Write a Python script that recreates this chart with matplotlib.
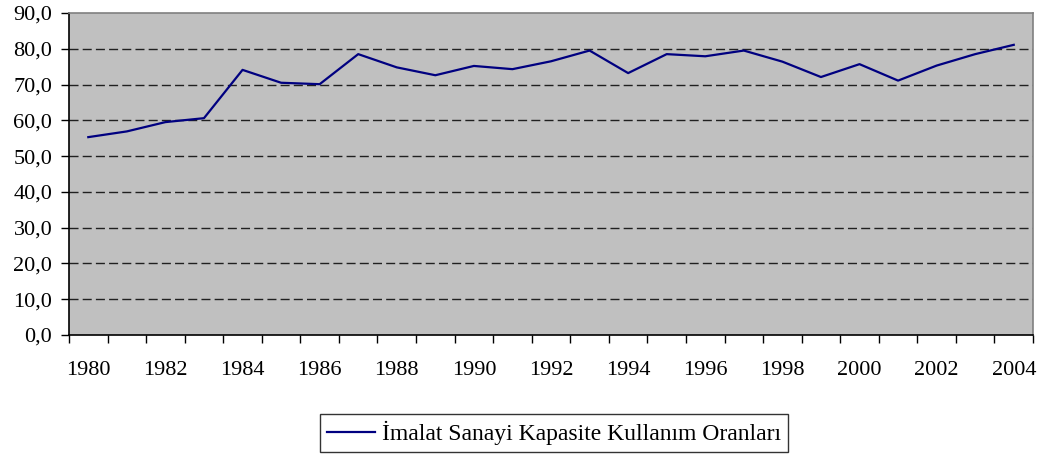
#!/usr/bin/env python
"""Capacity utilisation rate line chart (Excel style)."""

import matplotlib

matplotlib.use("Agg")
import matplotlib.pyplot as plt
from matplotlib.ticker import FixedLocator, FuncFormatter

YEARS = list(range(1980, 2005))
RATES = [
    55.3, 56.9, 59.5, 60.6, 74.1, 70.5, 70.1, 78.5, 74.8, 72.6,
    75.2, 74.3, 76.5, 79.5, 73.2, 78.5, 77.9, 79.5, 76.4, 72.1,
    75.7, 71.1, 75.3, 78.5, 81.1,
]
SERIES_LABEL = "İmalat Sanayi Kapasite Kullanım Oranları"
Y_TICKS = [0, 10, 20, 30, 40, 50, 60, 70, 80, 90]

plt.rcParams["font.family"] = ["Liberation Serif", "DejaVu Serif"]

fig = plt.figure(figsize=(10.44, 4.59), dpi=100)
ax = fig.add_axes([0.0661, 0.2702, 0.9234, 0.7015])
ax.set_facecolor("#c0c0c0")

x = list(range(len(YEARS)))
line, = ax.plot(x, RATES, color="#000080", lw=1.6, label=SERIES_LABEL)

ax.set_xlim(-0.5, len(YEARS) - 0.5)
ax.set_ylim(0, 90)

# y axis
ax.set_yticks(Y_TICKS)
ax.yaxis.set_major_formatter(FuncFormatter(lambda v, _: f"{v:.1f}".replace(".", ",")))
ax.tick_params(axis="y", direction="out", length=6, width=1, pad=6, labelsize=16)
for v in Y_TICKS[1:-1]:
    ax.axhline(v, color="#202020", lw=1, dashes=(6.5, 3), zorder=1)

# x axis: ticks between categories, labels every other year
ax.xaxis.set_major_locator(FixedLocator([i - 0.5 for i in range(len(YEARS) + 1)]))
ax.xaxis.set_major_formatter(FuncFormatter(lambda v, _: ""))
label_pos = [i for i in x if YEARS[i] % 2 == 0]
ax.xaxis.set_minor_locator(FixedLocator(label_pos))
ax.xaxis.set_minor_formatter(FuncFormatter(lambda v, _: str(YEARS[int(round(v))])))
ax.tick_params(axis="x", which="major", direction="out", length=6, width=1)
ax.tick_params(axis="x", which="minor", length=0, pad=19, labelsize=16)

for side in ("top", "right"):
    ax.spines[side].set_color("#808080")
    ax.spines[side].set_linewidth(1.2)
for side in ("left", "bottom"):
    ax.spines[side].set_color("black")
    ax.spines[side].set_linewidth(1.2)

leg = fig.legend(
    handles=[line],
    loc="center",
    bbox_to_anchor=(0.5307, 0.0566),
    fontsize=17,
    frameon=True,
    fancybox=False,
    handlelength=2.0,
    handletextpad=0.3,
    borderpad=0.3,
)
leg.get_frame().set_edgecolor("black")
leg.get_frame().set_linewidth(1)

fig.savefig("out.png", dpi=100)
